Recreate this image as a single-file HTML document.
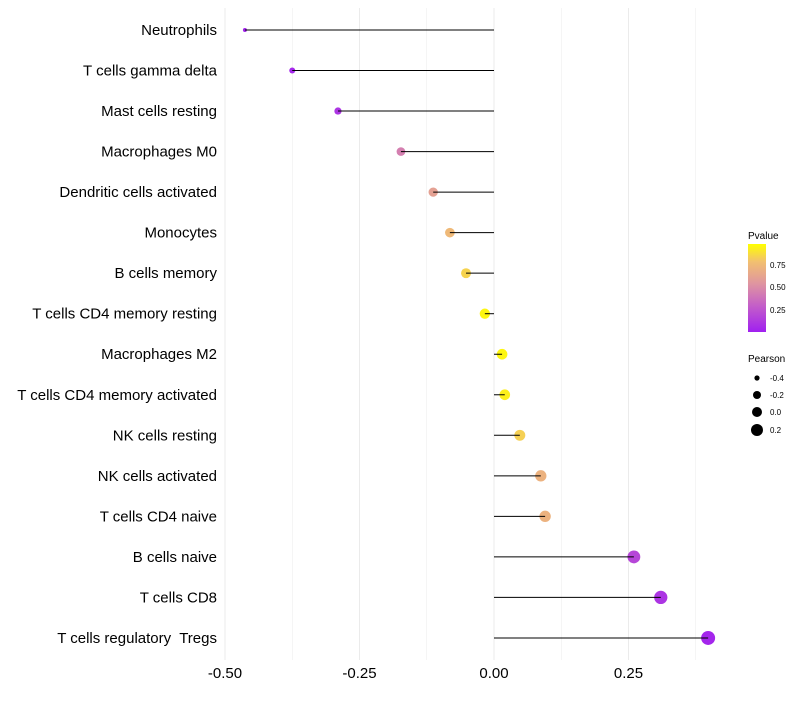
<!DOCTYPE html>
<html><head><meta charset="utf-8"><style>
body{margin:0;background:#fff;font-family:"Liberation Sans",sans-serif}
#labels text{white-space:pre}
</style></head><body>
<svg id="chart" width="800" height="700" xmlns="http://www.w3.org/2000/svg">
<defs><linearGradient id="pg" x1="0" y1="1" x2="0" y2="0">
<stop offset="0" stop-color="#A020F0"/><stop offset="0.3" stop-color="#C45FC8"/><stop offset="0.55" stop-color="#DF95A0"/><stop offset="0.8" stop-color="#F2C070"/><stop offset="1" stop-color="#FFFF00"/></linearGradient></defs>
<g id="grid"></g><g id="marks"></g><g id="stems"></g><g id="labels"></g>
<g>
<text x="748" y="239" font-size="10">Pvalue</text>
<rect x="748" y="244" width="18" height="88" fill="url(#pg)"/>
<text x="770" y="268" font-size="8">0.75</text>
<text x="770" y="290" font-size="8">0.50</text>
<text x="770" y="313" font-size="8">0.25</text>
</g>
<g>
<text x="748" y="362" font-size="10">Pearson</text>
<circle cx="757" cy="378" r="2.6"/><text x="770" y="381" font-size="8">-0.4</text>
<circle cx="757" cy="395" r="4"/><text x="770" y="398" font-size="8">-0.2</text>
<circle cx="757" cy="412" r="5"/><text x="770" y="415" font-size="8">0.0</text>
<circle cx="757" cy="430" r="6"/><text x="770" y="433" font-size="8">0.2</text>
</g>
</svg>
<script>
const cells=["Neutrophils","T cells gamma delta","Mast cells resting","Macrophages M0","Dendritic cells activated","Monocytes","B cells memory","T cells CD4 memory resting","Macrophages M2","T cells CD4 memory activated","NK cells resting","NK cells activated","T cells CD4 naive","B cells naive","T cells CD8","T cells regulatory  Tregs"];
const pearson=[-0.463,-0.375,-0.29,-0.173,-0.113,-0.082,-0.052,-0.017,0.015,0.02,0.048,0.087,0.095,0.26,0.31,0.398];
const pvalue=[0.02,0.04,0.1,0.45,0.62,0.76,0.86,0.97,0.97,0.95,0.85,0.72,0.72,0.18,0.1,0.03];
const xTicks=[-0.5,-0.25,0,0.25];
const tickLabels=["-0.50","-0.25","0.00","0.25"];
const NS="http://www.w3.org/2000/svg";
const x=v=>494+v*538, y=i=>30+i*40.53;
const r=v=>2+5*Math.pow(Math.max(0,(v+0.463)/0.861),0.7);
function col(p){const st=[[0,[160,32,240]],[0.3,[196,95,200]],[0.55,[223,149,160]],[0.8,[242,192,112]],[1,[255,255,0]]];
for(let k=1;k<st.length;k++){if(p<=st[k][0]){const a=st[k-1],b=st[k],t=(p-a[0])/(b[0]-a[0]);return "rgb("+a[1].map((c,j)=>Math.round(c+(b[1][j]-c)*t)).join(",")+")";}}return "rgb(255,255,0)";}
function mk(t,a,p){const e=document.createElementNS(NS,t);for(const k in a)e.setAttribute(k,a[k]);p.appendChild(e);return e;}
const G=document.getElementById("grid"),M=document.getElementById("marks"),S=document.getElementById("stems"),L=document.getElementById("labels");
for(let v=-0.5;v<=0.376;v+=0.125){const g=mk("line",{x1:x(v),x2:x(v),y1:8,y2:660,stroke:"#ebebeb","stroke-width":Math.abs((v*4)%1)<1e-6?1:0.5},G);

}
xTicks.forEach((v,i)=>{const t=mk("text",{x:x(v),y:678,"font-size":15,"text-anchor":"middle",fill:"#000"},L);t.textContent=tickLabels[i];

});
cells.forEach((c,i)=>{
const t=mk("text",{x:217,y:y(i)+5,"font-size":15,"text-anchor":"end",fill:"#000"},L);t.textContent=c;


const d=mk("circle",{cx:x(pearson[i]),cy:y(i),r:r(pearson[i]),fill:col(pvalue[i])},M);


const l=mk("line",{x1:x(0),x2:x(pearson[i]),y1:y(i),y2:y(i),stroke:"#000","stroke-width":1},S);


});
</script>
</body></html>
